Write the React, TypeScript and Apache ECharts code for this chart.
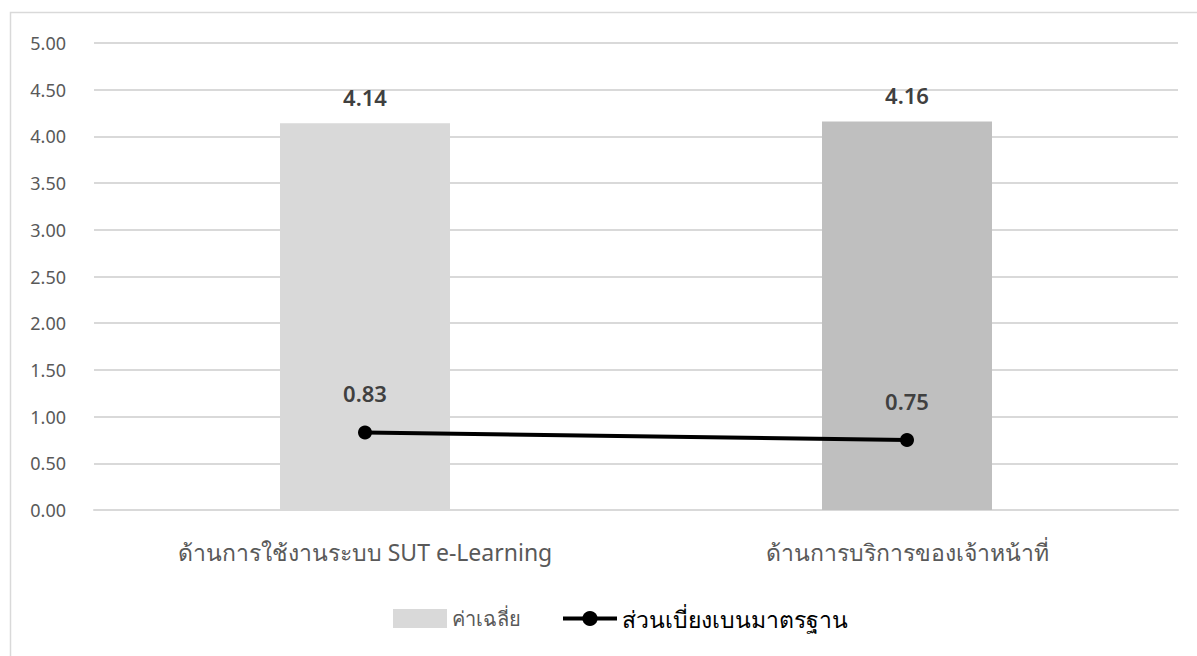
import React, { useEffect, useRef } from "react";
import * as echarts from "echarts";

const categories = ["ด้านการใช้งานระบบ SUT e-Learning", "ด้านการบริการของเจ้าหน้าที่"];
const meanValues = [4.14, 4.16];
const sdValues = [0.83, 0.75];
const barColors = ["#d9d9d9", "#bfbfbf"];
const seriesNames = ["ค่าเฉลี่ย", "ส่วนเบี่ยงเบนมาตรฐาน"];

const FONT = "'Noto Sans', 'Open Sans', sans-serif";

export default function App() {
  const ref = useRef<HTMLDivElement>(null);
  useEffect(() => {
    document.body.style.margin = "0";
    if (!ref.current) return;
    const chart = echarts.init(ref.current, undefined, { renderer: "svg" });
    chart.setOption({
      animation: false,
      backgroundColor: "#ffffff",
      textStyle: { fontFamily: FONT },
      graphic: [
        {
          type: "rect",
          shape: { x: 10.5, y: 12.5, width: 1250, height: 700 },
          style: { fill: "none", stroke: "#d9d9d9", lineWidth: 1.5 },
          silent: true,
          z: -1,
        },
      ],
      grid: { left: 94, right: 19, top: 43, bottom: 146 },
      legend: {
        bottom: 21,
        left: 388,
        itemWidth: 54,
        itemHeight: 19,
        itemGap: 40,
        data: [
          { name: seriesNames[0], icon: "rect", textStyle: { color: "#595959", fontSize: 20 } },
          {
            name: seriesNames[1],
            textStyle: { color: "#000000", fontSize: 23 },
            lineStyle: { width: 4 },
          },
        ],
        textStyle: { fontFamily: FONT },
      },
      xAxis: {
        type: "category",
        data: categories,
        axisLine: { lineStyle: { color: "#d9d9d9", width: 2 } },
        axisTick: { show: false },
        axisLabel: { color: "#595959", fontSize: 23, margin: 30, fontFamily: FONT },
      },
      yAxis: {
        type: "value",
        min: 0,
        max: 5,
        interval: 0.5,
        axisLabel: {
          color: "#595959",
          fontSize: 18,
          margin: 28,
          fontFamily: FONT,
          formatter: (v: number) => v.toFixed(2),
        },
        splitLine: { lineStyle: { color: "#d9d9d9", width: 2 } },
        axisLine: { show: false },
        axisTick: { show: false },
      },
      series: [
        {
          name: seriesNames[0],
          type: "bar",
          barWidth: 170,
          itemStyle: { color: barColors[0] },
          data: meanValues.map((v, i) => ({ value: v, itemStyle: { color: barColors[i] } })),
          label: {
            show: true,
            position: "top",
            distance: 15,
            color: "#404040",
            fontSize: 22,
            fontWeight: 600,
            fontFamily: FONT,
            formatter: (p: any) => Number(p.value).toFixed(2),
          },
        },
        {
          name: seriesNames[1],
          type: "line",
          data: sdValues,
          symbol: "circle",
          symbolSize: 14,
          lineStyle: { color: "#000000", width: 4 },
          itemStyle: { color: "#000000" },
          label: {
            show: true,
            position: "top",
            distance: 21,
            color: "#404040",
            fontSize: 22,
            fontWeight: 600,
            fontFamily: FONT,
            formatter: (p: any) => Number(p.value).toFixed(2),
          },
        },
      ],
    });
    return () => chart.dispose();
  }, []);
  return <div ref={ref} style={{ width: 1197, height: 656 }} />;
}
